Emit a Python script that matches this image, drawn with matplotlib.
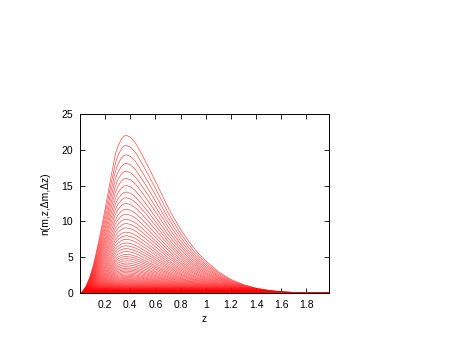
import numpy as np
import matplotlib
matplotlib.use("Agg")
import matplotlib.pyplot as plt

# shape of the outermost curve
z = [0.0, 0.02, 0.05, 0.08, 0.10, 0.12, 0.15, 0.18, 0.20, 0.22, 0.25, 0.28,
     0.30, 0.33, 0.35, 0.37, 0.40, 0.43, 0.45, 0.50, 0.55, 0.60, 0.65, 0.70,
     0.75, 0.80, 0.85, 0.90, 0.95, 1.00, 1.10, 1.20, 1.30, 1.40, 1.50, 1.60,
     1.70, 1.80, 1.90, 1.98]
n_top = [0.0, 0.2, 1.0, 2.3, 3.5, 4.9, 7.3, 9.9, 11.7, 13.6, 16.5, 19.2,
         20.4, 21.5, 21.9, 22.0, 21.75, 21.2, 20.7, 19.1, 17.4, 15.6, 13.8, 12.0,
         10.4, 8.9, 7.6, 6.4, 5.4, 4.5, 3.0, 1.9, 1.2, 0.7, 0.4, 0.2,
         0.1, 0.05, 0.02, 0.01]

# peak height of each curve (one curve per magnitude bin)
peaks = [22.0, 20.6, 19.3, 18.1, 17.0, 16.0, 15.0, 14.1, 13.3, 12.5, 11.7,
         11.0, 10.3, 9.7, 9.1, 8.5, 8.0, 7.5, 7.0, 6.6, 6.2, 5.8, 5.4, 5.1,
         4.8, 4.5, 4.2, 3.95, 3.7, 3.45, 3.25, 3.05, 2.85, 2.67, 2.5, 2.35,
         2.2, 2.06, 1.93, 1.81, 1.7, 1.59, 1.49, 1.4, 1.31, 1.23, 1.15, 1.08,
         1.01, 0.95, 0.89, 0.83, 0.78, 0.73, 0.68, 0.64, 0.6, 0.56, 0.53, 0.5,
         0.46, 0.43, 0.41, 0.38, 0.36, 0.33, 0.31, 0.29, 0.27, 0.26, 0.24,
         0.22, 0.21, 0.2, 0.18, 0.17, 0.16, 0.15, 0.14, 0.13, 0.12, 0.11, 0.1]

xticks = [0.2, 0.4, 0.6, 0.8, 1, 1.2, 1.4, 1.6, 1.8]
xticklabels = ["0.2", "0.4", "0.6", "0.8", "1", "1.2", "1.4", "1.6", "1.8"]
yticks = [0, 5, 10, 15, 20, 25]

plt.rcParams['font.family'] = ['Liberation Sans', 'DejaVu Sans']
plt.rcParams['font.size'] = 7.5

fig = plt.figure(figsize=(4.62, 3.57), dpi=100)
ax = fig.add_axes([0.173, 0.179, 0.539, 0.502])

shape = np.array(n_top) / max(n_top)
for p in peaks:
    ax.plot(z, shape * p, color='red', lw=0.5, alpha=0.7)

ax.set_xlim(0, 1.98)
ax.set_ylim(0, 25)
ax.set_xticks(xticks)
ax.set_xticklabels(xticklabels)
ax.set_yticks(yticks)
ax.tick_params(direction='in', length=3.5, width=0.6, top=True, right=True, pad=5)
for s in ax.spines.values():
    s.set_linewidth(0.7)

ax.set_xlabel("z", labelpad=3)
ax.set_ylabel("n(m,z,\u0394m,\u0394z)", labelpad=8)

fig.savefig("out.png", dpi=100)
